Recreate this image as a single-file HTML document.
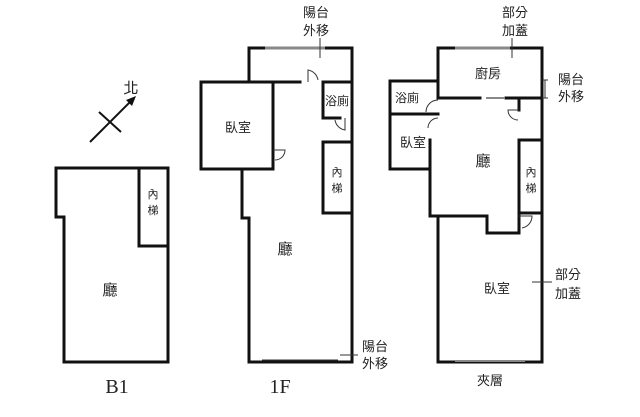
<!DOCTYPE html>
<html><head><meta charset="utf-8"><style>
body{margin:0;background:#fff}
svg{display:block}
text{font-family:"Liberation Sans","Noto Sans CJK TC",sans-serif;font-size:13px;fill:#222;text-anchor:middle}
.w{fill:none;stroke:#111;stroke-width:3;stroke-linecap:square}
.t{fill:none;stroke:#333;stroke-width:1}
.win{stroke:#888;stroke-width:3}
</style></head><body>
<svg width="640" height="417" viewBox="0 0 640 417">
<!-- compass -->
<line x1="90" y1="142" x2="133" y2="99" stroke="#111" stroke-width="2"/>
<polygon points="136,96 126,100 132,106" fill="#111"/>
<line x1="99" y1="112" x2="121" y2="132" stroke="#111" stroke-width="2"/>
<text x="131" y="93" style="font-size:15px">北</text>

<!-- B1 -->
<path class="w" d="M56 168 H168 V362 H64 V217 H56 Z"/>
<path class="w" d="M139 168 V246 H168"/>
<text x="153" y="198" style="font-size:11px">內</text>
<text x="153" y="214" style="font-size:11px">梯</text>
<text x="110" y="295" style="font-size:15px">廳</text>
<text x="117" y="393" style="font-family:'Liberation Serif',serif;font-size:20px">B1</text>

<!-- 1F -->
<path class="w" d="M249 82 V48 H352 V362 H249 V218 H242 V169 H201 V82 H249"/>
<line class="win" x1="265" y1="48" x2="325" y2="48"/>
<path class="w" d="M273 82 V169 H242"/>
<path class="w" d="M249 82 H300"/>
<path class="w" d="M323 82 H352 M323 82 V118 H340"/>
<path class="w" d="M323 142 H352 V213 H323 Z"/>
<path class="t" d="M308 82 V70 A12 12 0 0 1 318 80"/>
<path class="t" d="M345 118 V130 A12 12 0 0 1 335 120"/>
<path class="t" d="M273 150 H285 A10 10 0 0 1 275 160"/>
<line class="t" x1="262" y1="360" x2="338" y2="360"/>
<text x="316" y="17">陽台</text>
<text x="316" y="35">外移</text>
<line class="t" x1="320" y1="38" x2="320" y2="58"/>
<text x="238" y="132">臥室</text>
<text x="337" y="105" style="font-size:12px">浴廁</text>
<text x="337" y="176" style="font-size:11px">內</text>
<text x="337" y="192" style="font-size:11px">梯</text>
<text x="285" y="254" style="font-size:15px">廳</text>
<text x="375" y="351">陽台</text>
<text x="375" y="368">外移</text>
<line class="t" x1="340" y1="355" x2="358" y2="355"/>
<text x="280" y="393" style="font-family:'Liberation Serif',serif;font-size:20px">1F</text>

<!-- 2F -->
<path class="w" d="M438 98 V48 H542 V362 H438 V216 H430 V169 H390 V81 H438"/>
<line class="win" x1="455" y1="48" x2="510" y2="48"/>
<path class="w" d="M390 114 H438 M430 169 V140 M438 98 H480 M506 98 H542"/>
<line class="win" x1="486" y1="98" x2="504" y2="98" style="stroke-width:2"/>
<path class="w" d="M519 98 V110 M519 140 V216 M519 140 H542 M519 213 H542"/>
<path class="w" d="M430 216 H487 V233 H519 V216"/>
<path class="t" d="M438 100 A12 12 0 0 0 426 112"/>
<path class="t" d="M438 118 A10 10 0 0 0 428 128"/>
<path class="t" d="M519 110 H508 A10 10 0 0 0 518 120"/>
<path class="t" d="M519 216 H532 A12 12 0 0 1 522 228"/>
<line class="win" x1="455" y1="361" x2="525" y2="361" style="stroke-width:2"/>
<text x="515" y="17">部分</text>
<text x="515" y="35">加蓋</text>
<line class="t" x1="512" y1="38" x2="512" y2="58"/>
<text x="488" y="78">廚房</text>
<text x="571" y="84">陽台</text>
<text x="571" y="101">外移</text>
<path class="t" d="M545 80 V98 M542 80 H548 M542 98 H548"/>
<text x="407" y="102" style="font-size:12px">浴廁</text>
<text x="413" y="147">臥室</text>
<text x="483" y="166" style="font-size:15px">廳</text>
<text x="531" y="176" style="font-size:11px">內</text>
<text x="531" y="192" style="font-size:11px">梯</text>
<text x="497" y="293">臥室</text>
<text x="568" y="279">部分</text>
<text x="568" y="298">加蓋</text>
<line class="t" x1="532" y1="282" x2="552" y2="282"/>
<text x="490" y="385">夾層</text>
</svg>
</body></html>
